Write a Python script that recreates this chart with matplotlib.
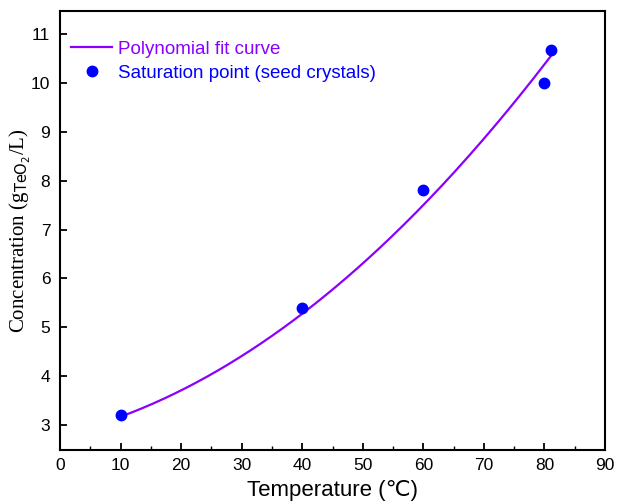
import numpy as np
import matplotlib
matplotlib.use("Agg")
import matplotlib.pyplot as plt
from matplotlib.ticker import MultipleLocator

# Measured saturation points
temperature = [10, 40, 60, 80, 81]
concentration = [3.2, 5.4, 7.8, 10.0, 10.67]

# Fit curve (polynomial)
curve_t = [10, 25, 40, 60, 81]
curve_c = [3.18, 3.9, 5.29, 7.6, 10.53]
coef = np.polyfit(curve_t, curve_c, 2, w=[3, 1, 1, 1, 2])
fit_x = np.linspace(10, 81, 200)
fit_y = np.polyval(coef, fit_x)

plt.rcParams['font.family'] = ['Liberation Sans', 'DejaVu Sans']

fig = plt.figure(figsize=(6.17, 5.04), dpi=100)
ax = fig.add_axes([0.0972, 0.1071, 0.8834, 0.8710])

ax.plot(fit_x, fit_y, color="#8a00ff", lw=1.6, label="Polynomial fit curve")
ax.plot(temperature, concentration, "o", color="#0000ff", ms=7.5, label="Saturation point (seed crystals)")

ax.set_xlim(0, 90)
ax.set_ylim(2.49, 11.47)
ax.xaxis.set_major_locator(MultipleLocator(10))
ax.xaxis.set_minor_locator(MultipleLocator(5))
ax.yaxis.set_major_locator(MultipleLocator(1))
ax.tick_params(which="major", direction="in", length=5, width=1.3, labelsize=12.5)
ax.tick_params(axis="y", pad=7)
ax.tick_params(axis="x", pad=6)
ax.tick_params(which="minor", direction="in", length=3, width=1.0)
for s in ax.spines.values():
    s.set_linewidth(1.5)

ax.set_xlabel("Temperature (℃)", fontsize=16, labelpad=5)
ax.set_ylabel("Concentration (g$_{\\mathrm{TeO_2}}$/L)", fontsize=15,
              family="Liberation Serif", labelpad=-1.5)

leg = ax.legend(loc="upper left", frameon=False, fontsize=13.5, handlelength=2.2,
                handletextpad=0.3, borderaxespad=0.2, labelspacing=0.35,
                bbox_to_anchor=(0.0, 0.958))
for text, c in zip(leg.get_texts(), ["#8a00ff", "#0000ff"]):
    text.set_color(c)

fig.savefig("out.png", dpi=100)
